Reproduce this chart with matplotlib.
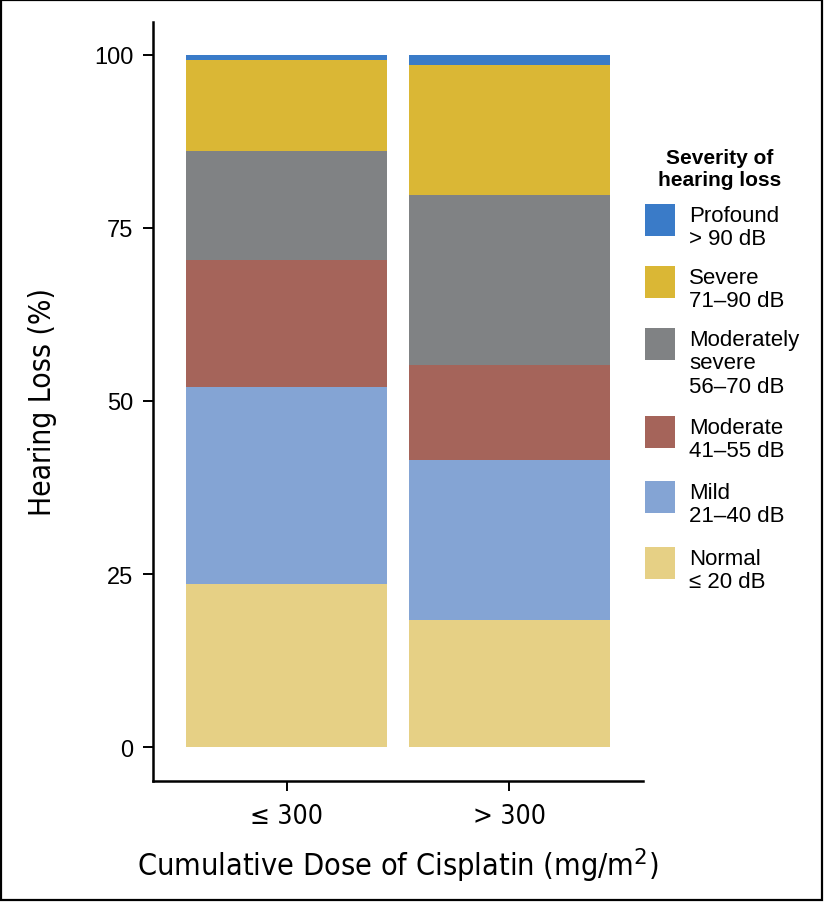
import matplotlib
matplotlib.use("Agg")
import matplotlib.pyplot as plt
from matplotlib import font_manager
from matplotlib.font_manager import FontProperties
from matplotlib.patches import Rectangle
import numpy as np

# ---- data ----
groups = ["\u2264 300", "> 300"]
categories = ["Normal", "Mild", "Moderate", "Moderately severe", "Severe", "Profound"]
legend_labels = {
    "Profound": "Profound\n> 90 dB",
    "Severe": "Severe\n71\u201390 dB",
    "Moderately severe": "Moderately\nsevere\n56\u201370 dB",
    "Moderate": "Moderate\n41\u201355 dB",
    "Mild": "Mild\n21\u201340 dB",
    "Normal": "Normal\n\u2264 20 dB",
}
normal = [23.6, 18.4]
mild = [28.4, 23.1]
moderate = [18.4, 13.7]
mod_severe = [15.7, 24.5]
severe = [13.2, 18.8]
profound = [0.7, 1.5]
yticks = [0, 25, 50, 75, 100]

colors = {
    "Normal": "#e6d085",
    "Mild": "#84a4d4",
    "Moderate": "#a5645a",
    "Moderately severe": "#808284",
    "Severe": "#dab735",
    "Profound": "#3a7bc8",
}

names = {f.name for f in font_manager.fontManager.ttflist}
regular = "Liberation Sans" if "Liberation Sans" in names else "DejaVu Sans"
plt.rcParams["font.family"] = [regular, "DejaVu Sans"]

cond_path = None
for f in font_manager.fontManager.ttflist:
    if f.fname.endswith("DejaVuSansCondensed.ttf"):
        cond_path = f.fname
        break

def nfp(size):
    if cond_path:
        return FontProperties(fname=cond_path, size=size)
    return FontProperties(family="DejaVu Sans", stretch="condensed", weight="normal", size=size)

fig = plt.figure(figsize=(8.26, 9.03), dpi=100)
ax = fig.add_axes([0.1852, 0.1340, 0.5933, 0.8409])

series = [normal, mild, moderate, mod_severe, severe, profound]
x = np.arange(len(groups))
bottom = np.zeros(len(groups))
for name, vals in zip(categories, series):
    ax.bar(x, vals, width=0.9, bottom=bottom, color=colors[name], linewidth=0)
    bottom += np.array(vals)

ax.set_xlim(-0.6, 1.6)
ax.set_ylim(-4.9, 104.8)
ax.set_yticks(yticks)
ax.set_yticklabels([str(t) for t in yticks], fontsize=17)
ax.set_xticks(x)
ax.set_xticklabels(groups, fontproperties=nfp(19))
for s in ["top", "right"]:
    ax.spines[s].set_visible(False)
for s in ["left", "bottom"]:
    ax.spines[s].set_linewidth(1.8)
ax.tick_params(axis="both", length=7, width=1.4, pad=7)
ax.tick_params(axis="x", pad=9)
ax.set_ylabel("Hearing Loss (%)", fontproperties=nfp(21.5), labelpad=27)
ax.set_xlabel("Cumulative Dose of Cisplatin (mg/m$^{2}$)", fontproperties=nfp(22), labelpad=12)

# ---- legend (manual) ----
W, H = 826, 903
def fx(px):
    return px / W
def fy(py):
    return 1 - py / H

fig.text(fx(720), fy(149), "Severity of\nhearing loss", ha="center", va="top",
         fontsize=15, fontweight="bold", linespacing=1.2)
patch_tops = [205, 267, 329, 417, 482, 548]
order = ["Profound", "Severe", "Moderately severe", "Moderate", "Mild", "Normal"]
for top, name in zip(patch_tops, order):
    fig.patches.append(Rectangle((fx(645), fy(top + 32)), fx(30), 32 / H,
                                 transform=fig.transFigure, facecolor=colors[name],
                                 edgecolor="none"))
    fig.text(fx(689), fy(top + 1), legend_labels[name], ha="left", va="top",
             fontsize=16, linespacing=1.15)

# figure border
fig.patches.append(Rectangle((fx(1), fy(901)), fx(821), 900 / H, transform=fig.transFigure,
                             facecolor="none", edgecolor="black", linewidth=1.6))

fig.savefig("out.png", dpi=100)
